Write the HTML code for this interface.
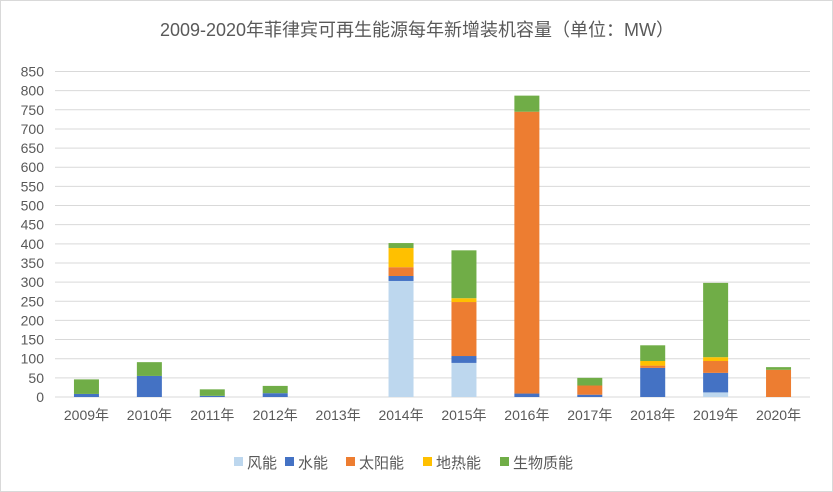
<!DOCTYPE html>
<html><head><meta charset="utf-8"><style>
body{margin:0;background:#fff}
#c{position:relative;width:833px;height:492px;overflow:hidden;font-family:"Liberation Sans","Noto Sans CJK SC",sans-serif}
</style></head><body>
<div id="c">
<svg id="s" width="833" height="492" xmlns="http://www.w3.org/2000/svg">
<rect x="0.5" y="0.5" width="832" height="491" fill="#fff" stroke="#d9d9d9"/>
<text x="417" y="36" text-anchor="middle" font-size="18" fill="#595959" font-family="Liberation Sans, Noto Sans CJK SC, sans-serif">2009-2020年菲律宾可再生能源每年新增装机容量（单位：MW）</text>
<g id="grid"></g><g id="bars"></g><g id="xl"></g><g id="yl"></g><g id="leg"></g>
</svg>
</div>
<script>
const categories=["2009年","2010年","2011年","2012年","2013年","2014年","2015年","2016年","2017年","2018年","2019年","2020年"];
const seriesNames=["风能","水能","太阳能","地热能","生物质能"];
const wind=[0,0,0,0,0,303,89,0,0,0,12,0];
const hydro=[8,55,3,10,0,13,18,9,6,76,51,0];
const solar=[0,0,0,0,0,23,141,736,24,6,31,71];
const geo=[0,0,0,0,0,50,10,0,0,12,10,0];
const bio=[38,36,17,19,0,13,125,42,20,41,194,7];
const yTicks=[0,50,100,150,200,250,300,350,400,450,500,550,600,650,700,750,800,850];
const colors=["#bdd7ee","#4472c4","#ed7d31","#ffc000","#70ad47"];
const series=[wind,hydro,solar,geo,bio];
const NS="http://www.w3.org/2000/svg";
const L=55,R=810,Y0=397,Y850=71.5;
const y=v=>Y0-(v/850)*(Y0-Y850);
const step=(R-L)/categories.length;
const xc=i=>L+step*(i+0.5);
const bw=25;
function mk(t,a,p){const e=document.createElementNS(NS,t);for(const k in a)e.setAttribute(k,a[k]);p.appendChild(e);return e;}
const g=document.getElementById('grid');
yTicks.forEach(v=>{
 const l=mk('line',{x1:L,x2:R,y1:y(v),y2:y(v),stroke:'#d9d9d9','stroke-width':1},g);
 
 
 const t=mk('text',{x:44,y:y(v)+5,'text-anchor':'end','font-size':14,fill:'#595959'},document.getElementById('yl'));
 t.textContent=v;
 
 
});
const b=document.getElementById('bars');
categories.forEach((c,i)=>{
 let acc=0;
 series.forEach((s,j)=>{
  const v=s[i]; if(v<=0)return;
  const r=mk('rect',{x:xc(i)-bw/2,y:y(acc+v),width:bw,height:y(acc)-y(acc+v),fill:colors[j]},b);
  
  
  acc+=v;
 });
 const t=mk('text',{x:xc(i),y:420,'text-anchor':'middle','font-size':14,fill:'#595959'},document.getElementById('xl'));
 t.textContent=c;
 
 
});
const lg=document.getElementById('leg');
const lx=[234,285,346,423,500];
seriesNames.forEach((n,j)=>{
 const r=mk('rect',{x:lx[j],y:457,width:9,height:9,fill:colors[j]},lg);
 
 
 const t=mk('text',{x:lx[j]+13,y:468,'font-size':15,fill:'#595959'},lg);
 t.textContent=n;
 
 
});
</script>
</body></html>
